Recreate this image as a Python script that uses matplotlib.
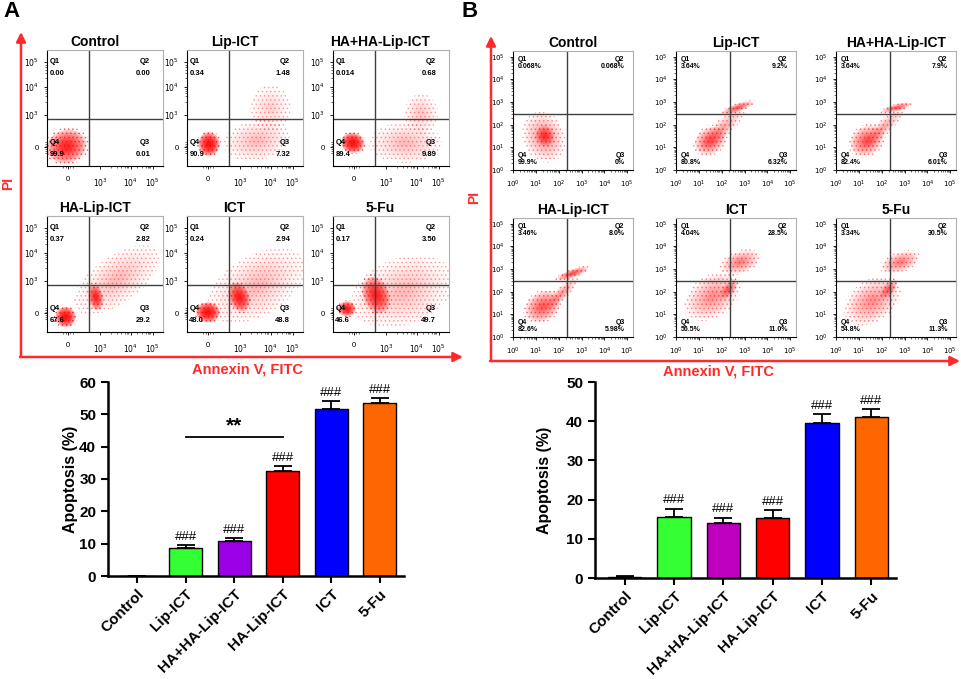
import numpy as np
import matplotlib
matplotlib.use('Agg')
import matplotlib.pyplot as plt
from matplotlib.patches import Ellipse

plt.rcParams['font.family'] = ['Liberation Sans', 'DejaVu Sans']
plt.rcParams['hatch.linewidth'] = 0.6

# ---------------- data ----------------
groups = ['Control', 'Lip-ICT', 'HA+HA-Lip-ICT', 'HA-Lip-ICT', 'ICT', '5-Fu']

apop_a = [0.0, 8.8, 10.9, 32.6, 51.6, 53.4]
err_a = [0.0, 0.8, 0.7, 1.4, 2.5, 1.5]
apop_b = [0.3, 15.5, 14.1, 15.2, 39.5, 41.0]
err_b = [0.25, 2.2, 1.3, 2.1, 2.3, 2.0]
colors_a = ['#FFFFFF', '#33FF33', '#9900E6', '#FF0000', '#0000FF', '#FF6600']
colors_b = ['#FFFFFF', '#33FF33', '#C000C0', '#FF0000', '#0000FF', '#FF6600']

# quadrant percentages Q1, Q2, Q3, Q4
quad_a = [['0.00', '0.00', '0.01', '99.9'],
          ['0.34', '1.48', '7.32', '90.9'],
          ['0.014', '0.68', '9.89', '89.4'],
          ['0.37', '2.82', '29.2', '67.6'],
          ['0.24', '2.94', '48.8', '48.0'],
          ['0.17', '3.50', '49.7', '46.6']]
quad_b = [['0.068%', '0.068%', '0%', '99.9%'],
          ['3.64%', '9.2%', '6.32%', '80.8%'],
          ['3.64%', '7.9%', '6.01%', '82.4%'],
          ['3.46%', '8.0%', '5.98%', '82.6%'],
          ['4.04%', '28.5%', '11.0%', '56.5%'],
          ['3.34%', '30.5%', '11.3%', '54.8%']]

# cell clouds: (x, y, width, height, angle, density)
clouds_a = [
    [(0.17, 0.17, 0.34, 0.28, 15, 0.30)],
    [(0.19, 0.19, 0.18, 0.20, 0, 0.40), (0.60, 0.22, 0.50, 0.30, 10, 0.05),
     (0.72, 0.50, 0.30, 0.35, 0, 0.03)],
    [(0.17, 0.20, 0.20, 0.17, -10, 0.40), (0.62, 0.20, 0.55, 0.30, 0, 0.05),
     (0.76, 0.45, 0.25, 0.30, 0, 0.04)],
    [(0.16, 0.13, 0.17, 0.17, 0, 0.40), (0.42, 0.30, 0.12, 0.22, 10, 0.30),
     (0.60, 0.45, 0.75, 0.35, 35, 0.05)],
    [(0.18, 0.17, 0.20, 0.17, 0, 0.40), (0.45, 0.30, 0.17, 0.25, 20, 0.32),
     (0.60, 0.40, 0.80, 0.45, 30, 0.05)],
    [(0.12, 0.20, 0.15, 0.13, 0, 0.35), (0.37, 0.32, 0.22, 0.32, 20, 0.30),
     (0.60, 0.35, 0.80, 0.50, 20, 0.05)],
]
clouds_b = [
    [(1.35, 1.45, 1.60, 2.00, 20, 0.10), (1.40, 1.50, 0.80, 0.90, 20, 0.20)],
    [(1.50, 1.30, 1.40, 1.10, 35, 0.18), (2.00, 1.80, 2.40, 0.70, 45, 0.08),
     (2.70, 2.75, 1.40, 0.35, 20, 0.18)],
    [(1.35, 1.30, 1.50, 1.20, 35, 0.18), (2.00, 1.80, 2.40, 0.60, 45, 0.08),
     (2.65, 2.75, 1.30, 0.30, 15, 0.18)],
    [(1.30, 1.35, 1.60, 1.20, 35, 0.18), (2.10, 1.90, 1.80, 0.50, 45, 0.10),
     (2.60, 2.80, 1.40, 0.35, 20, 0.20)],
    [(1.60, 1.80, 2.40, 1.60, 35, 0.10), (2.30, 2.10, 1.00, 0.50, 50, 0.15),
     (2.80, 3.30, 1.60, 0.90, 20, 0.12)],
    [(1.60, 1.60, 2.40, 1.60, 35, 0.10), (2.30, 2.10, 1.00, 0.50, 50, 0.15),
     (2.80, 3.30, 1.60, 0.80, 20, 0.12)],
]

# axis labelling of the biexponential scale (panel A) and gates
a_ticks = [0.16, 0.44, 0.68, 0.90]
a_xticks = [0.18, 0.46, 0.72, 0.91]
a_labels = ['0', '$10^3$', '$10^4$', '$10^5$']
a_gate = (0.36, 0.405)
b_decades = [0, 1, 2, 3, 4, 5]
b_gate = (2.35, 2.45)

W, H = 962, 679
fig = plt.figure(figsize=(9.62, 6.79), dpi=100)


def px_axes(left, top, w, h):
    return fig.add_axes([left / W, 1 - (top + h) / H, w / W, h / H])


def draw_cloud(ax, c):
    x, y, w, h, ang, a = c
    # speckled outer halo, like scattered events
    ax.add_patch(Ellipse((x, y), w * 1.15, h * 1.15, angle=ang, facecolor='none',
                         edgecolor='#FF4040', hatch='....', lw=0,
                         alpha=min(1.0, 0.35 + a * 1.5)))
    for s in [1.0, 0.85, 0.7, 0.55, 0.42, 0.3, 0.2]:
        ax.add_patch(Ellipse((x, y), w * s, h * s, angle=ang,
                             facecolor='#FF0000', alpha=a * 0.75, lw=0))


def style_flow(ax):
    for s in ['top', 'right']:
        ax.spines[s].set_color('#B0B0B0')
        ax.spines[s].set_linewidth(0.8)
    for s in ['left', 'bottom']:
        ax.spines[s].set_linewidth(0.8)
    ax.tick_params(which='major', length=2.5, width=0.6, labelsize=5.5)
    ax.tick_params(which='minor', length=1.2, width=0.4)


def quad_text(ax, vals, xl, xr, yt, yt2, yb, yb2, fs):
    kw = dict(transform=ax.transAxes, fontsize=fs, fontweight='bold')
    ax.text(xl, yt, 'Q1', ha='left', va='center', **kw)
    ax.text(xl, yt2, vals[0], ha='left', va='center', **kw)
    ax.text(xr, yt, 'Q2', ha='right', va='center', **kw)
    ax.text(xr, yt2, vals[1], ha='right', va='center', **kw)
    ax.text(xr, yb, 'Q3', ha='right', va='center', **kw)
    ax.text(xr, yb2, vals[2], ha='right', va='center', **kw)
    ax.text(xl, yb, 'Q4', ha='left', va='center', **kw)
    ax.text(xl, yb2, vals[3], ha='left', va='center', **kw)


# ---------------- panel A dot plots ----------------
cols_a = [47, 187, 333]
rows_a = [50, 216]
for i, g in enumerate(groups):
    ax = px_axes(cols_a[i % 3], rows_a[i // 3], 116, 116)
    for c in clouds_a[i]:
        draw_cloud(ax, c)
    ax.axvline(a_gate[0], color='#404040', lw=1.0)
    ax.axhline(a_gate[1], color='#404040', lw=1.0)
    ax.set_xlim(0, 1)
    ax.set_ylim(0, 1)
    ax.set_xticks(a_xticks)
    ax.set_xticklabels(a_labels)
    ax.set_yticks(a_ticks)
    ax.set_yticklabels(a_labels)
    ax.set_xticks([0.14, 0.16, 0.20, 0.22, 0.55, 0.6, 0.64, 0.67, 0.69, 0.70,
                   0.78, 0.82, 0.85, 0.87, 0.88, 0.89], minor=True)
    ax.set_yticks([0.11, 0.13, 0.15, 0.17, 0.19, 0.21, 0.55, 0.6, 0.63, 0.65,
                   0.66, 0.76, 0.8, 0.83, 0.85, 0.87], minor=True)
    style_flow(ax)
    ax.tick_params(axis='x', pad=5)
    ax.set_title(g, x=0.41, fontsize=10, fontweight='bold', pad=3)
    quad_text(ax, quad_a[i], 0.02, 0.89, 0.90, 0.80, 0.20, 0.095, 5.5)

# ---------------- panel B dot plots ----------------
cols_b = [513, 676, 836]
rows_b = [51, 218]
for i, g in enumerate(groups):
    ax = px_axes(cols_b[i % 3], rows_b[i // 3], 120, 119)
    for c in clouds_b[i]:
        draw_cloud(ax, c)
    ax.axvline(b_gate[0], color='#404040', lw=1.0)
    ax.axhline(b_gate[1], color='#404040', lw=1.0)
    ax.set_xlim(0, 5.25)
    ax.set_ylim(0, 5.25)
    labs = ['$10^{%d}$' % d for d in b_decades]
    ax.set_xticks(b_decades)
    ax.set_xticklabels(labs)
    ax.set_yticks(b_decades)
    ax.set_yticklabels(labs)
    minor = [d + np.log10(m) for d in b_decades[:-1] for m in range(2, 10)]
    ax.set_xticks(minor, minor=True)
    ax.set_yticks(minor, minor=True)
    style_flow(ax)
    ax.tick_params(labelsize=5)
    ax.set_title(g, fontsize=10, fontweight='bold', pad=3)
    quad_text(ax, quad_b[i], 0.04, 0.93, 0.93, 0.87, 0.125, 0.06, 5)

# ---------------- bar charts ----------------
def bar_panel(left, top, w, h, vals, errs, cols, ymax, step, lpad):
    ax = px_axes(left, top, w, h)
    x = np.arange(len(groups))
    ax.bar(x, vals, width=0.68, color=cols, edgecolor='black', lw=1.0, zorder=2)
    ax.errorbar(x, vals, yerr=[np.zeros(len(x)), errs], fmt='none',
                ecolor='black', elinewidth=1.3, capsize=6.5, capthick=1.3, zorder=1)
    ax.set_xlim(-0.6, 5.5)
    ax.set_ylim(0, ymax)
    ax.set_yticks(np.arange(0, ymax + 1, step))
    ax.set_xticks(x)
    ax.set_xticklabels(groups, rotation=45, ha='right', rotation_mode='anchor',
                       fontsize=11, fontweight='bold')
    for t in ax.get_yticklabels():
        t.set_fontweight('bold')
    ax.tick_params(axis='y', labelsize=11, length=5, width=1.5)
    ax.tick_params(axis='x', length=5, width=1.5, pad=3)
    for s in ['top', 'right']:
        ax.spines[s].set_visible(False)
    for s in ['left', 'bottom']:
        ax.spines[s].set_linewidth(1.8)
    ax.set_ylabel('Apoptosis (%)', fontsize=11.5, fontweight='bold', labelpad=lpad)
    for i in range(1, len(groups)):
        ax.text(x[i], vals[i] + errs[i] + ymax * 0.012, '###', ha='center',
                va='bottom', fontsize=9.5)
    return ax


ax_a = bar_panel(108, 382, 296, 194, apop_a, err_a, colors_a, 60, 10, 1)
ax_a.plot([1, 3], [43, 43], color='black', lw=1.3)
ax_a.text(2, 43.4, '**', ha='center', va='bottom', fontsize=15, fontweight='bold')

ax_b = bar_panel(595, 382, 301, 196, apop_b, err_b, colors_b, 50, 10, 10)

# ---------------- overlay: arrows and labels ----------------
ov = fig.add_axes([0, 0, 1, 1], zorder=-1)
ov.set_xlim(0, W)
ov.set_ylim(H, 0)
ov.axis('off')
red = '#FF2A2A'
arrow = dict(arrowstyle='-|>', color=red, lw=1.8, mutation_scale=14, shrinkA=0, shrinkB=0)
ov.annotate('', xy=(21, 32), xytext=(21, 357), arrowprops=arrow)
ov.annotate('', xy=(463, 357), xytext=(20, 357), arrowprops=arrow)
ov.annotate('', xy=(491, 36), xytext=(491, 361), arrowprops=arrow)
ov.annotate('', xy=(960, 361), xytext=(490, 361), arrowprops=arrow)
ov.text(8, 183, 'PI', color=red, fontsize=10, fontweight='bold', rotation=90,
        ha='center', va='center')
ov.text(474, 197, 'PI', color=red, fontsize=10, fontweight='bold', rotation=90,
        ha='center', va='center')
ov.text(248, 369, 'Annexin V, FITC', color=red, fontsize=10.5, fontweight='bold',
        ha='center', va='center')
ov.text(719, 371, 'Annexin V, FITC', color=red, fontsize=10.5, fontweight='bold',
        ha='center', va='center')
ov.text(3, 1, 'A', fontsize=16, fontweight='bold', ha='left', va='top')
ov.text(462, 1, 'B', fontsize=16, fontweight='bold', ha='left', va='top')

fig.savefig('out.png', dpi=100)
